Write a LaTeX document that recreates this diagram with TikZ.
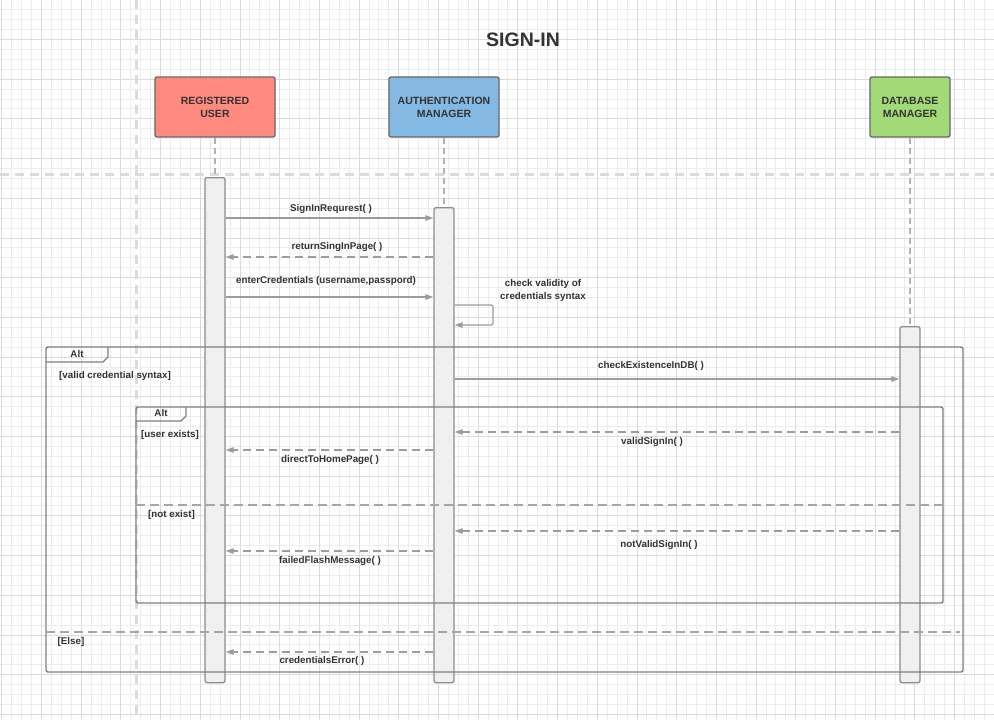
\documentclass[tikz,border=0pt]{standalone}
\usepackage{fontspec}
\setmainfont{Liberation Sans}
\usepackage{xcolor}
\usetikzlibrary{arrows.meta}
\usetikzlibrary{positioning}

\definecolor{usered}{HTML}{FF8B80}
\definecolor{authblue}{HTML}{84B9E3}
\definecolor{dbgreen}{HTML}{A3D977}
\definecolor{inkgray}{HTML}{333333}
\definecolor{wiregray}{HTML}{9C9C9C}
\definecolor{framegray}{HTML}{7F7F7F}

\begin{document}
\begin{tikzpicture}[x=1pt,y=-1pt]
        \tikzstyle{actor}=[draw=black!60,line width=1.3pt,rounded corners=2pt,minimum height=60pt,align=center,text=inkgray,font=\fontsize{10.5}{13}\selectfont\bfseries]
        \tikzstyle{bar}=[draw=black!45,line width=1.3pt,fill=black!6,rounded corners=2pt,minimum width=20pt,anchor=north,inner sep=0pt]
        \tikzstyle{lifeline}=[draw=black!30,line width=1.3pt,dash pattern=on 6pt off 4pt]
        \tikzstyle{msg}=[draw=wiregray,line width=1.2pt,-{Triangle[length=8pt,width=5.5pt]}]
        \tikzstyle{reply}=[msg,dash pattern=on 8pt off 5pt]
        \tikzstyle{lbl}=[text=inkgray,font=\fontsize{9.8}{12}\selectfont\bfseries,inner sep=0pt]
        \tikzstyle{frame}=[draw=framegray,line width=1.4pt,rounded corners=2pt]
        \tikzstyle{sep}=[draw=black!35,line width=1.4pt,dash pattern=on 9pt off 5pt]
        \useasboundingbox (0,0) rectangle (994,720);
       % grid paper
       \begin{scope}
         \fill[white] (0,0) rectangle (994,720);
         \foreach \i in {0,...,100} \draw[black!7] ({1.5+\i*9.925},0) -- ++(0,720);
         \foreach \j in {0,...,73} \draw[black!7] (0,{-0.5+\j*9.925}) -- ++(994,0);
         \foreach \i in {0,...,25} \draw[black!14] ({1.5+\i*39.7},0) -- ++(0,720);
         \foreach \j in {0,...,18} \draw[black!14] (0,{-0.5+\j*39.7}) -- ++(994,0);
         \draw[black!14,line width=3pt,dash pattern=on 9pt off 6pt] (136,0) -- (136,720);
         \draw[black!14,line width=3pt,dash pattern=on 9pt off 6pt] (0,174) -- (994,174);
       \end{scope}
       \node[text=inkgray,font=\fontsize{19.5}{22}\selectfont\bfseries] (title) at (523,40) {SIGN-IN};
       % participants
       \begin{scope}
         \node [actor,fill=usered,minimum width=120pt] (user) at (215,107) {REGISTERED\\USER};
         \node [actor,fill=authblue,minimum width=110pt] (auth) at (444,107) {AUTHENTICATION\\MANAGER};
         \node [actor,fill=dbgreen,minimum width=80pt] (db) at (910,107) {DATABASE\\MANAGER};
         \coordinate (utop) at (215,177);
         \coordinate (atop) at (444,207);
         \coordinate (dtop) at (910,326);
         \path[lifeline] (user.south) -- (utop);
         \path[lifeline] (auth.south) -- (atop);
         \path[lifeline] (db.south) -- (dtop);
         \node [bar,minimum height=505pt] (ubar) at (utop) {};
         \node [bar,minimum height=475pt] (abar) at (atop) {};
         \node [bar,minimum height=356pt] (dbar) at (dtop) {};
       \end{scope}
       % message levels
       \coordinate (r1) at (0,218);
       \coordinate (r2) at (0,257);
       \coordinate (r3) at (0,297);
       \coordinate (r4) at (0,305);
       \coordinate (r5) at (0,325);
       \coordinate (r6) at (0,379);
       \coordinate (r7) at (0,432);
       \coordinate (r8) at (0,450);
       \coordinate (r9) at (0,531);
       \coordinate (r10) at (0,551);
       \coordinate (r11) at (0,652);
       \coordinate (loop) at (493,0);
       % alt frames
       \begin{scope}
         \draw[frame] (46,347) rectangle (963,672);
         \draw[frame,rounded corners=0pt] (46,362) -- (103,362) -- (108,357) -- (108,347);
         \node[lbl] (alt1) at (77,354) {Alt};
         \node[lbl] (c1) at (115,376) {[valid credential syntax]};
         \draw[sep] (46,632) -- (960,632);
         \node[lbl] (c2) at (71,642) {[Else]};
         \draw[frame] (136,407) rectangle (943,603);
         \draw[frame,rounded corners=0pt] (136,421) -- (181,421) -- (186,416) -- (186,407);
         \node[lbl] (alt2) at (161,413) {Alt};
         \node[lbl] (c3) at (170,435) {[user exists]};
         \draw[sep] (136,505) -- (943,505);
         \node[lbl] (c4) at (171.5,515) {[not exist]};
       \end{scope}
       % messages
       \begin{scope}
         \draw[msg] (ubar.east |- r1) -- (abar.west |- r1);
         \node[lbl] (m1) at (331,209) {SignInRequrest( )};
         \draw[reply] (abar.west |- r2) -- (ubar.east |- r2);
         \node[lbl] (m2) at (337,247) {returnSingInPage( )};
         \draw[msg] (ubar.east |- r3) -- (abar.west |- r3);
         \node[lbl] (m3) at (326,281) {enterCredentials (username,passpord)};
         \draw[msg,rounded corners=2pt] (abar.east |- r4) -- (loop |- r4) -- (loop |- r5) -- (abar.east |- r5);
         \node[lbl,align=center] (m4) at (543,290) {check validity of\\[1pt]credentials syntax};
         \draw[msg] (abar.east |- r6) -- (dbar.west |- r6);
         \node[lbl] (m5) at (651,366) {checkExistenceInDB( )};
         \draw[reply] (dbar.west |- r7) -- (abar.east |- r7);
         \node[lbl] (m6) at (652,442) {validSignIn( )};
         \draw[reply] (abar.west |- r8) -- (ubar.east |- r8);
         \node[lbl] (m7) at (330,460) {directToHomePage( )};
         \draw[reply] (dbar.west |- r9) -- (abar.east |- r9);
         \node[lbl] (m8) at (659,545) {notValidSignIn( )};
         \draw[reply] (abar.west |- r10) -- (ubar.east |- r10);
         \node[lbl] (m9) at (330,561) {failedFlashMessage( )};
         \draw[reply] (abar.west |- r11) -- (ubar.east |- r11);
         \node[lbl] (m10) at (322,661) {credentialsError( )};
       \end{scope}
      \end{tikzpicture}
\end{document}
